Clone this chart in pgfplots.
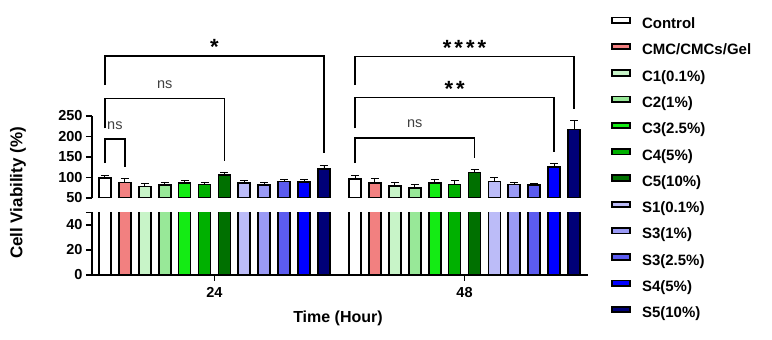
\documentclass[border=0pt]{standalone}
\usepackage{fontspec}
\setmainfont{Liberation Sans}
\usepackage{pgfplots}
\pgfplotsset{compat=1.18}

% bar fills
\definecolor{cControl}{RGB}{255,255,255}
\definecolor{cCMC}{RGB}{242,128,128}
\definecolor{cCa}{RGB}{200,244,200}
\definecolor{cCb}{RGB}{152,232,152}
\definecolor{cCc}{RGB}{20,235,20}
\definecolor{cCd}{RGB}{0,176,0}
\definecolor{cCe}{RGB}{0,112,0}
\definecolor{cSa}{RGB}{188,188,248}
\definecolor{cSb}{RGB}{154,154,245}
\definecolor{cSc}{RGB}{92,92,240}
\definecolor{cSd}{RGB}{0,0,255}
\definecolor{cSe}{RGB}{0,0,120}

% mean +- SD at 24 h (x = 0..11) and 48 h (x = 12.56..23.56)
\newcommand{\viabilitybars}{%
\addplot[fill=cControl] coordinates {(0,98) +- (0,6) (12.56,97) +- (0,7)};
\addplot[fill=cCMC] coordinates {(1,88) +- (0,9) (13.56,86) +- (0,11)};
\addplot[fill=cCa] coordinates {(2,78) +- (0,8) (14.56,79) +- (0,9)};
\addplot[fill=cCb] coordinates {(3,81) +- (0,6) (15.56,75) +- (0,9)};
\addplot[fill=cCc] coordinates {(4,86) +- (0,6) (16.56,86) +- (0,9)};
\addplot[fill=cCd] coordinates {(5,83) +- (0,5) (17.56,83) +- (0,9)};
\addplot[fill=cCe] coordinates {(6,106) +- (0,6) (18.56,112) +- (0,7)};
\addplot[fill=cSa] coordinates {(7,86) +- (0,7) (19.56,90) +- (0,9)};
\addplot[fill=cSb] coordinates {(8,81) +- (0,6) (20.56,83) +- (0,6)};
\addplot[fill=cSc] coordinates {(9,90) +- (0,6) (21.56,81) +- (0,4)};
\addplot[fill=cSd] coordinates {(10,89) +- (0,6) (22.56,125) +- (0,9)};
\addplot[fill=cSe] coordinates {(11,120) +- (0,10) (23.56,217) +- (0,22)};
}

\pgfplotsset{
  breakaxis/.style={
    scale only axis, width=496pt,
    xmin=-0.65, xmax=24.26,
    ybar, bar width=12pt, bar shift=0pt,
    every axis plot/.append style={draw=black, line width=1.8pt},
    axis line style={line width=1.8pt, black},
    tick style={line width=1.8pt, black},
    major tick length=6pt, tick align=outside,
    /pgf/number format/assume math mode=true,
    ticklabel style={font=\fontsize{14.5}{14.5}\selectfont\bfseries},
  },
}
\tikzset{
  bracket/.style={black, line width=1.4pt, mark=none, solid},
  sigstar/.style={anchor=south, inner sep=0pt, yshift=1pt, font=\fontsize{22}{22}\selectfont\bfseries},
  nslabel/.style={anchor=south, inner sep=0pt, text=black!75, font=\fontsize{14.5}{14.5}\selectfont},
}

\begin{document}
\begin{tikzpicture}
\useasboundingbox (0,0) rectangle (772pt,340pt);

% lower segment, 0 to 50
\begin{axis}[breakaxis,
  at={(92pt,65pt)}, anchor=south west, height=62.5pt,
  ymin=0, ymax=50,
  axis lines*=left,
  ytick={0,20,40,50}, yticklabels={0,20,40,{}},
  xtick={5.5,18.06}, xticklabels={24,48},
  xticklabel style={yshift=-3pt},
]
\viabilitybars
\end{axis}

% upper segment, 50 to 250
\begin{axis}[breakaxis,
  at={(92pt,142pt)}, anchor=south west, height=82pt,
  ymin=50, ymax=250,
  axis y line*=left, axis x line=none,
  ytick={50,100,150,200,250}, xtick=\empty,
  error bars/y dir=plus, error bars/y explicit,
  error bars/error bar style={line width=0.9pt, black},
  error bars/error mark options={rotate=90, mark size=4pt, line width=0.9pt, black},
  legend image code/.code={\draw[#1, line width=1.8pt] (0pt,2pt) rectangle (18pt,7.5pt);},
  legend style={at={(1.0464,2.2146)}, anchor=north west, draw=none, fill=none,
    inner sep=0pt, row sep=10.4pt,
    font=\fontsize{15}{15}\selectfont\bfseries,
    nodes={inner sep=0pt, text height=11pt, text depth=4pt},
    /tikz/every odd column/.append style={column sep=11pt}},
  legend cell align=left,
  legend entries={Control, CMC/CMCs/Gel, C1(0.1\%), C2(1\%), C3(2.5\%), C4(5\%),
    C5(10\%), S1(0.1\%), S3(1\%), S3(2.5\%), S4(5\%), S5(10\%)},
]
\viabilitybars
\end{axis}

% significance brackets
\begin{axis}[
  scale only axis, width=496pt, height=82pt,
  at={(92pt,142pt)}, anchor=south west,
  xmin=-0.65, xmax=24.26, ymin=50, ymax=250,
  hide axis, clip=false,
]
\addplot[bracket] coordinates {(0,325) (0,396) (11,396) (11,160)};
\addplot[bracket] coordinates {(0,220) (0,292) (6,292) (6,140)};
\addplot[bracket] coordinates {(0,135) (0,194) (1,194) (1,126)};
\addplot[bracket] coordinates {(12.56,325) (12.56,395) (23.56,395) (23.56,267)};
\addplot[bracket] coordinates {(12.56,220) (12.56,295) (22.56,295) (22.56,161)};
\addplot[bracket] coordinates {(12.56,135) (12.56,196) (18.56,196) (18.56,148)};
\node[sigstar] at (axis cs:5.5,396) {*};
\node[sigstar] at (axis cs:18.06,395) {*\hspace{3pt}*\hspace{3pt}*\hspace{3pt}*};
\node[sigstar] at (axis cs:17.56,295) {*\hspace{3pt}*};
\node[nslabel, yshift=10pt] at (axis cs:3,292) {ns};
\node[nslabel, yshift=9pt] at (axis cs:0.5,194) {ns};
\node[nslabel, yshift=10pt] at (axis cs:15.56,196) {ns};
\end{axis}

% axis titles
\node[rotate=90, font=\fontsize{17}{17}\selectfont\bfseries] at (18pt,147pt) {Cell Viability (\%)};
\node[font=\fontsize{16}{16}\selectfont\bfseries] at (338pt,22pt) {Time (Hour)};
\end{tikzpicture}
\end{document}
